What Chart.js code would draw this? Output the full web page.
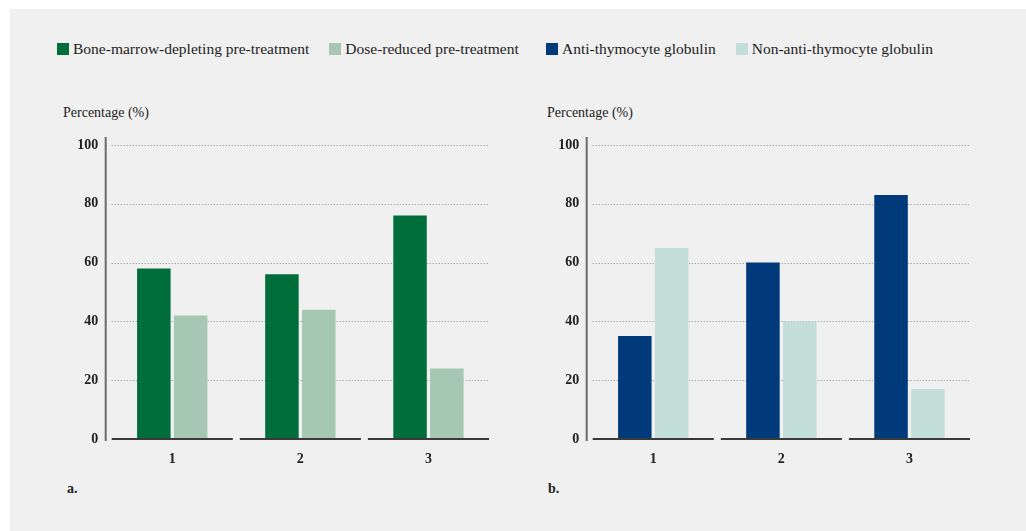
<!DOCTYPE html>
<html>
<head>
<meta charset="utf-8">
<script src="https://cdn.jsdelivr.net/npm/chart.js@4"></script>
<style>
  body { margin: 0; background: #fff; width: 1026px; height: 531px; overflow: hidden; position: relative; font-family: 'Liberation Serif', serif; color: #222; }
  #panel { position: absolute; left: 10px; top: 9px; right: 0; bottom: 0; background: #f0f0f0; }
  .legend { position: absolute; top: 40px; display: flex; font-size: 15.5px; line-height: 18px; }
  .legend .item { display: flex; align-items: center; margin-right: 20px; }
  .legend .box { width: 12px; height: 12px; margin-right: 4px; }
  .ytitle { position: absolute; top: 105px; font-size: 14px; }
  .panel-tag { position: absolute; top: 481px; font-size: 14px; font-weight: bold; }
  .wrap { position: absolute; top: 100px; width: 470px; height: 400px; }
</style>
</head>
<body>
<div id="panel"></div>
<div class="legend" id="legendA" style="left:57px"></div>
<div class="legend" id="legendB" style="left:546px"></div>
<div class="ytitle" style="left:63px">Percentage (%)</div>
<div class="ytitle" style="left:547px">Percentage (%)</div>
<div class="panel-tag" style="left:67px">a.</div>
<div class="panel-tag" style="left:548px">b.</div>
<div class="wrap" style="left:40px"><canvas id="chartA" width="470" height="400"></canvas></div>
<div class="wrap" style="left:521px"><canvas id="chartB" width="470" height="400"></canvas></div>
<script>
// 데이터
const categories = ['1', '2', '3'];
const yTicks = [0, 20, 40, 60, 80, 100];

const labelsA = ['Bone-marrow-depleting pre-treatment', 'Dose-reduced pre-treatment'];
const boneMarrow = [58, 56, 76];
const doseReduced = [42, 44, 24];
const colorsA = ['#006e3b', '#a6c8b3'];

const labelsB = ['Anti-thymocyte globulin', 'Non-anti-thymocyte globulin'];
const atg = [35, 60, 83];
const nonAtg = [65, 40, 17];
const colorsB = ['#003a7a', '#c3ddd9'];

const INSET = 3.5; // 바닥선/격자선 양끝 여백

// 범례 (html)
function buildLegend(id, labels, colors) {
  const el = document.getElementById(id);
  labels.forEach((txt, i) => {
    const item = document.createElement('div');
    item.className = 'item';
    item.innerHTML = `<span class="box" style="background:${colors[i]}"></span><span>${txt}</span>`;
    el.appendChild(item);
  });
}
buildLegend('legendA', labelsA, colorsA);
buildLegend('legendB', labelsB, colorsB);

// 점선 격자
const dottedGrid = {
  id: 'dottedGrid',
  beforeDatasetsDraw(chart) {
    const { ctx, chartArea, scales } = chart;
    ctx.save();
    ctx.strokeStyle = '#8a8a8a';
    ctx.lineWidth = 1;
    ctx.setLineDash([1, 2]);
    scales.y.ticks.forEach(t => {
      if (t.value === 0) return;
      const y = Math.round(scales.y.getPixelForValue(t.value)) + 0.5;
      ctx.beginPath();
      ctx.moveTo(chartArea.left + INSET, y);
      ctx.lineTo(chartArea.right - INSET, y);
      ctx.stroke();
    });
    ctx.restore();
  }
};

// y축 세로선 + 카테고리별 바닥선
const axisLines = {
  id: 'axisLines',
  afterDatasetsDraw(chart) {
    const { ctx, chartArea, scales } = chart;
    const y0 = scales.y.getPixelForValue(0);
    ctx.save();
    ctx.strokeStyle = '#6a6a6a';
    ctx.lineWidth = 2;
    ctx.beginPath();
    ctx.moveTo(chartArea.left - 2.5, chartArea.top - 8);
    ctx.lineTo(chartArea.left - 2.5, y0 + 2);
    ctx.stroke();

    ctx.strokeStyle = '#3a3a3a';
    const n = categories.length;
    const w = (chartArea.right - chartArea.left) / n;
    for (let i = 0; i < n; i++) {
      ctx.beginPath();
      ctx.moveTo(chartArea.left + i * w + INSET, y0);
      ctx.lineTo(chartArea.left + (i + 1) * w - INSET, y0);
      ctx.stroke();
    }
    ctx.restore();
  }
};

function makeChart(id, labels, series, colors) {
  new Chart(document.getElementById(id), {
    type: 'bar',
    data: {
      labels: categories,
      datasets: series.map((d, i) => ({
        label: labels[i],
        data: d,
        backgroundColor: colors[i],
        borderWidth: 0,
        barPercentage: 0.91,
        categoryPercentage: 0.575
      }))
    },
    options: {
      responsive: false,
      animation: false,
      layout: { padding: { top: 45, right: 17.5, left: 0, bottom: 0 } },
      plugins: { legend: { display: false }, tooltip: { enabled: false } },
      scales: {
        x: {
          grid: { display: false },
          border: { display: false },
          ticks: { color: '#222', padding: 4, font: { family: 'Liberation Serif', size: 14, weight: 'bold' } },
          afterFit: (s) => { s.height = 61; }
        },
        y: {
          min: 0,
          max: 100,
          afterBuildTicks: (s) => { s.ticks = yTicks.map(v => ({ value: v })); },
          grid: { display: false, drawTicks: false },
          border: { display: false },
          ticks: { color: '#222', padding: 10, font: { family: 'Liberation Serif', size: 14, weight: 'bold' } },
          afterFit: (s) => { s.width = 68.2; }
        }
      }
    },
    plugins: [dottedGrid, axisLines]
  });
}

makeChart('chartA', labelsA, [boneMarrow, doseReduced], colorsA);
makeChart('chartB', labelsB, [atg, nonAtg], colorsB);
</script>
</body>
</html>
